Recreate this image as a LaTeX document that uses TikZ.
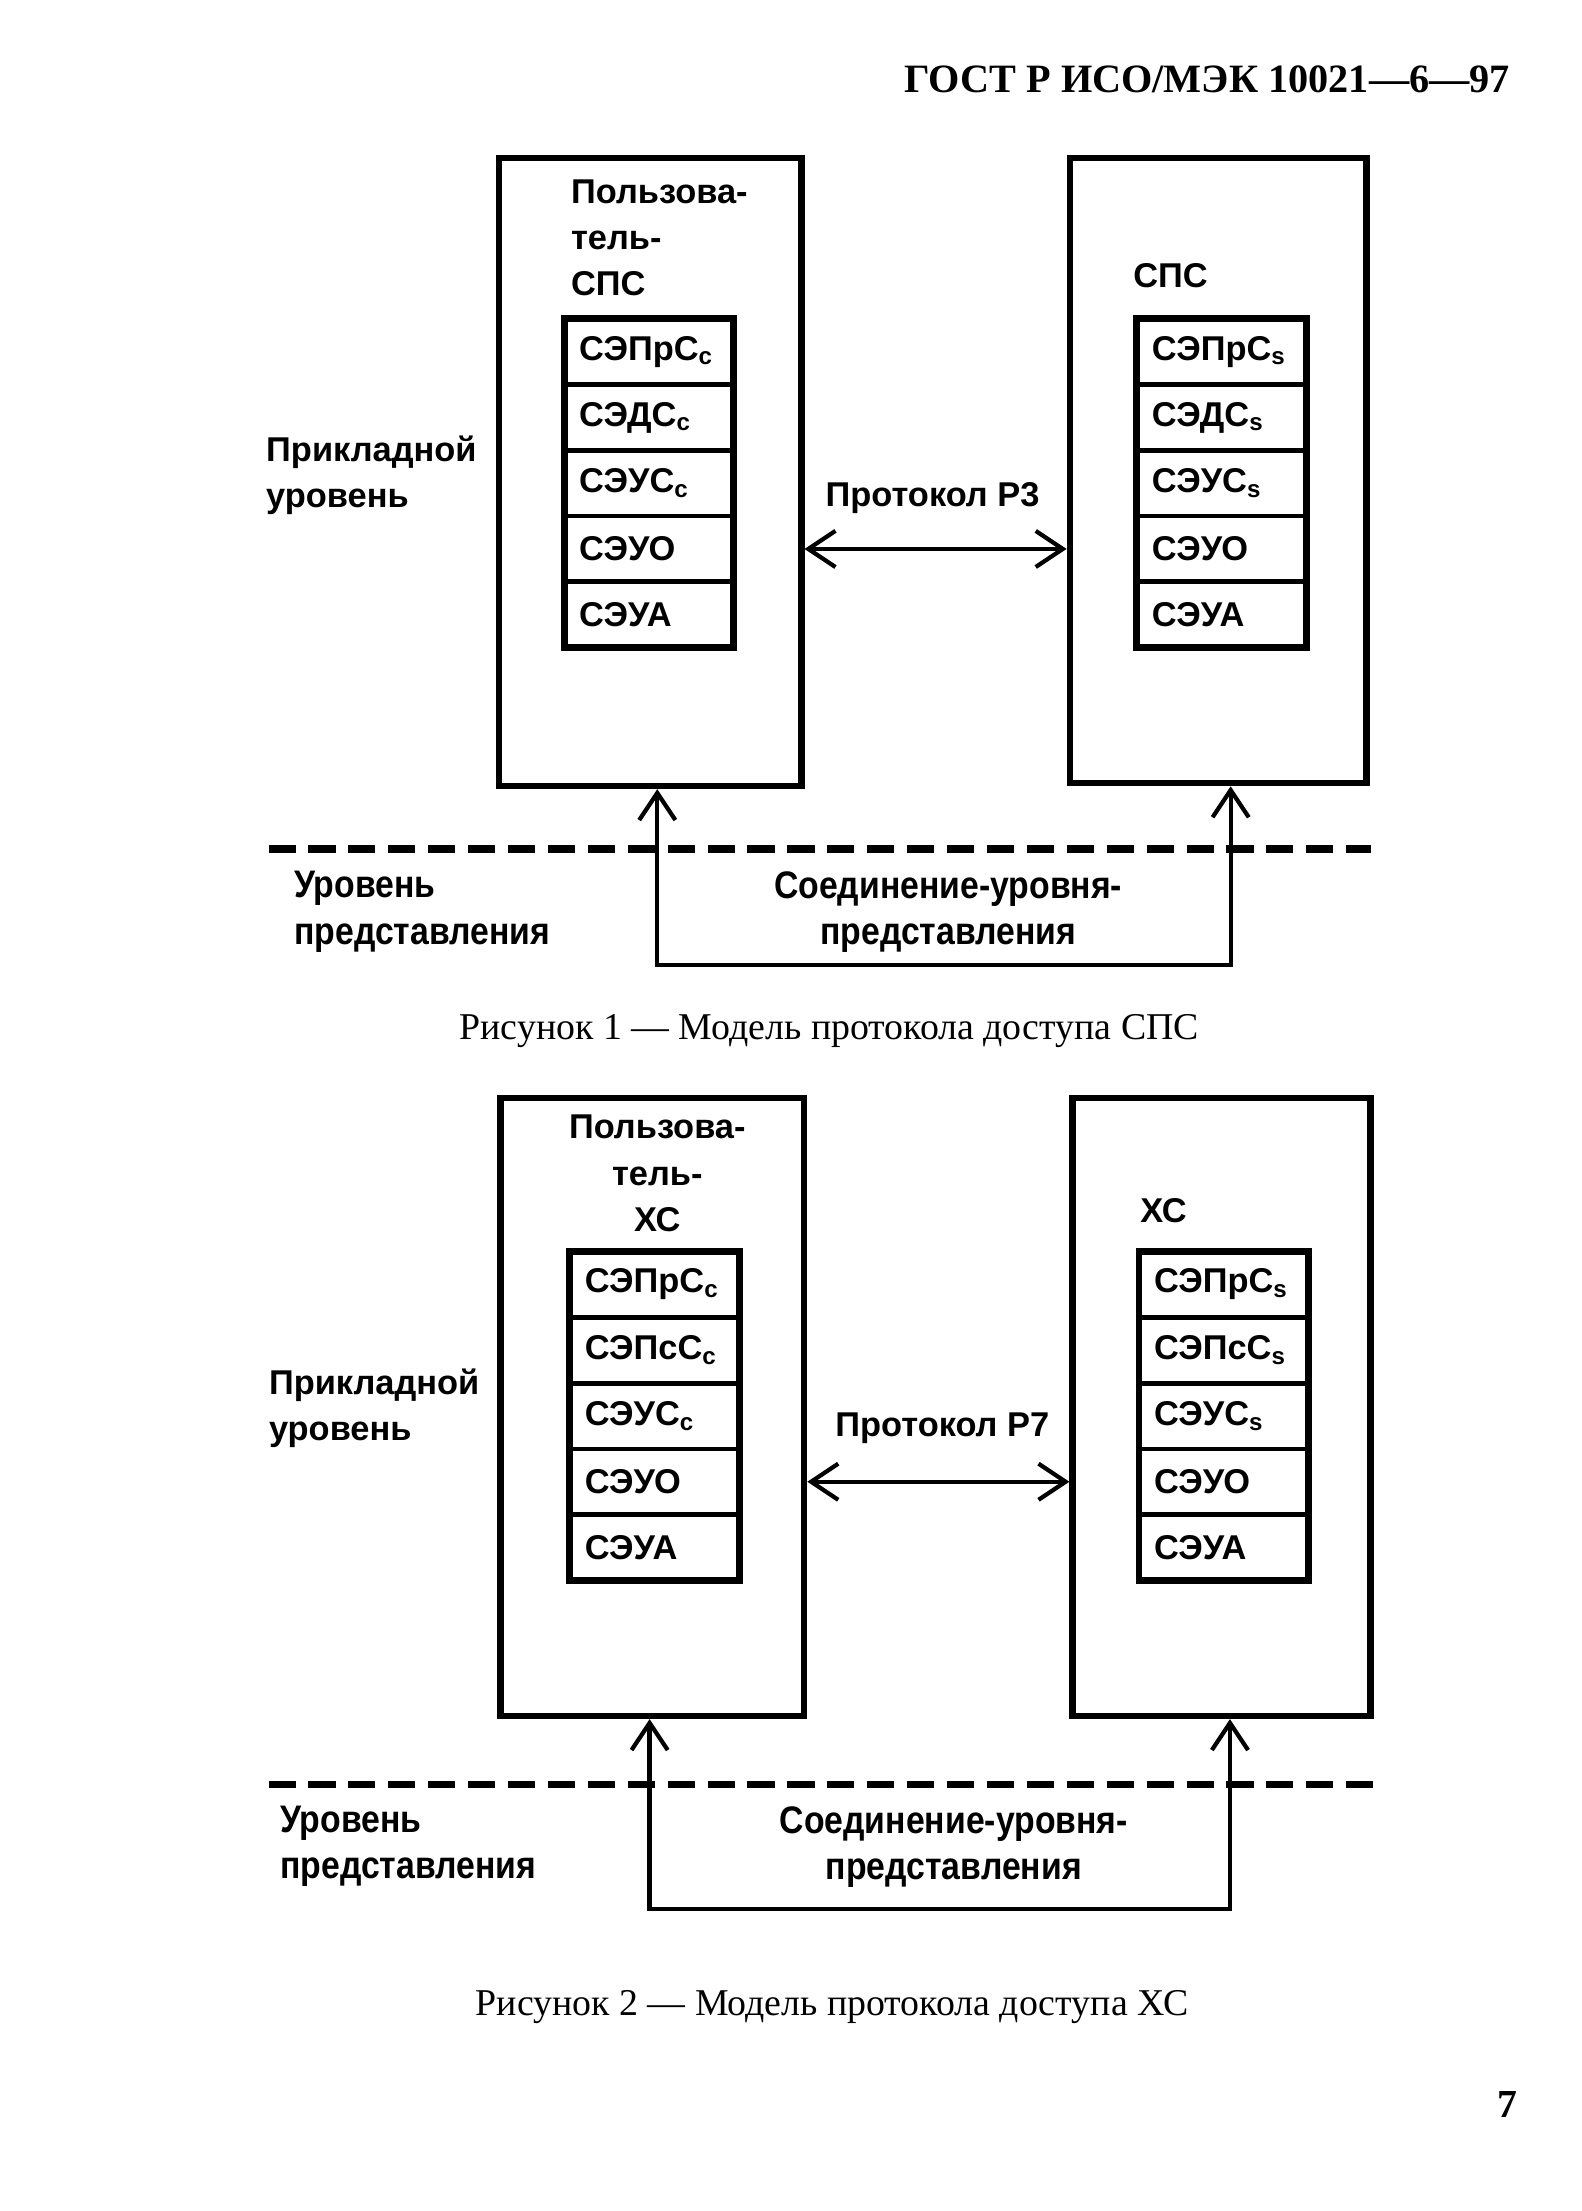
\documentclass[tikz,border=0pt]{standalone}
\usepackage{fontspec}
\setmainfont{Liberation Serif}
\newfontfamily\diafont{Liberation Sans}
\newfontfamily\narrowfont[FakeStretch=0.88]{Liberation Sans}
\usetikzlibrary{positioning,fit,arrows.meta,calc}

\begin{document}
\begin{tikzpicture}[x=0.018568cm,y=-0.018568cm,
    box/.style={draw, line width=2.4pt, inner sep=0pt},
    cell/.style={draw, line width=1.8pt, outer sep=0pt, minimum height=0.873cm,
      text width=1.85cm, inner xsep=0.2cm, align=left,
      font=\diafont\bfseries\fontsize{13}{15}\selectfont},
    stack/.style={draw, line width=2.6pt, inner sep=0pt},
    lbl/.style={inner sep=0pt, font=\diafont\bfseries\fontsize{13}{17.5}\selectfont},
    nlbl/.style={inner sep=0pt, font=\narrowfont\bfseries\fontsize{14.5}{17.5}\selectfont},
    link/.style={line width=1.6pt,
      {Straight Barb[length=3.6mm,width=4.8mm]}-{Straight Barb[length=3.6mm,width=4.8mm]}},
    level/.style={line width=2.8pt, dash pattern=on 0.36cm off 0.17cm},
    caption/.style={inner sep=0pt, font=\fontsize{14.3}{17}\selectfont}]
  \useasboundingbox (0,0) rectangle (1131,1581);

  \node[anchor=east, inner sep=0pt, font=\bfseries\fontsize{15.2}{18}\selectfont]
    (head) at (1080,57) {ГОСТ Р ИСО/МЭК 10021—6—97};

  % Рисунок 1
  \node[box, fit={(357,113) (573,562)}] (usr1) {};
  \node[box, fit={(765,113) (977,560)}] (srv1) {};
  \node[lbl, anchor=west, align=left] (usr1name) at (408,170) {Пользова-\\тель-\\СПС};
  \node[lbl, anchor=west] (srv1name) at (810,197) {СПС};

  \node[cell] (u1a) at (464,251.5) {СЭПрС\textsubscript{c}};
  \node[cell, below=0pt of u1a] (u1b) {СЭДС\textsubscript{c}};
  \node[cell, below=0pt of u1b] (u1c) {СЭУС\textsubscript{c}};
  \node[cell, below=0pt of u1c] (u1d) {СЭУО};
  \node[cell, below=0pt of u1d] (u1e) {СЭУА};
  \node[stack, fit=(u1a)(u1e)] (u1stack) {};

  \node[cell] (s1a) at (873.5,251.5) {СЭПрС\textsubscript{s}};
  \node[cell, below=0pt of s1a] (s1b) {СЭДС\textsubscript{s}};
  \node[cell, below=0pt of s1b] (s1c) {СЭУС\textsubscript{s}};
  \node[cell, below=0pt of s1c] (s1d) {СЭУО};
  \node[cell, below=0pt of s1d] (s1e) {СЭУА};
  \node[stack, fit=(s1a)(s1e)] (s1stack) {};

  \node[lbl, anchor=west, align=left] (app1) at (190,340) {Прикладной\\уровень};
  \node[lbl, anchor=west] (p3) at (590,356) {Протокол Р3};
  \draw[link] (usr1.east |- u1d) -- (srv1.west |- u1d);

  \draw[level] (192,607) -- (980,607);
  \node[nlbl, anchor=west, align=left] (pres1) at (210,652) {Уровень\\представления};
  \node[nlbl, align=center] (conn1) at (678,652) {Соединение-уровня-\\представления};
  \draw[link] ($(usr1.south)+(5,0)$) -- ++(0,126) -| ($(srv1.south)+(9,0)$);

  \node[caption] (cap1) at (593,737) {Рисунок 1 — Модель протокола доступа СПС};

  % Рисунок 2
  \node[box, fit={(358,785) (575,1227)}] (usr2) {};
  \node[box, fit={(767,785) (980,1227)}] (srv2) {};
  \node[lbl, align=center] (usr2name) at (470,839) {Пользова-\\тель-\\ХС};
  \node[lbl, anchor=west] (srv2name) at (815,866) {ХС};

  \node[cell] (u2a) at (468,918.5) {СЭПрС\textsubscript{c}};
  \node[cell, below=0pt of u2a] (u2b) {СЭПсС\textsubscript{c}};
  \node[cell, below=0pt of u2b] (u2c) {СЭУС\textsubscript{c}};
  \node[cell, below=0pt of u2c] (u2d) {СЭУО};
  \node[cell, below=0pt of u2d] (u2e) {СЭУА};
  \node[stack, fit=(u2a)(u2e)] (u2stack) {};

  \node[cell] (s2a) at (875,918.5) {СЭПрС\textsubscript{s}};
  \node[cell, below=0pt of s2a] (s2b) {СЭПсС\textsubscript{s}};
  \node[cell, below=0pt of s2b] (s2c) {СЭУС\textsubscript{s}};
  \node[cell, below=0pt of s2c] (s2d) {СЭУО};
  \node[cell, below=0pt of s2d] (s2e) {СЭУА};
  \node[stack, fit=(s2a)(s2e)] (s2stack) {};

  \node[lbl, anchor=west, align=left] (app2) at (192,1007) {Прикладной\\уровень};
  \node[lbl, anchor=west] (p7) at (597,1021) {Протокол Р7};
  \draw[link] (usr2.east |- u2d) -- (srv2.west |- u2d);

  \draw[level] (192,1276) -- (987,1276);
  \node[nlbl, anchor=west, align=left] (pres2) at (200,1320) {Уровень\\представления};
  \node[nlbl, align=center] (conn2) at (682,1321) {Соединение-уровня-\\представления};
  \draw[link] ($(usr2.south)+(-2,0)$) -- ++(0,136) -| ($(srv2.south)+(6,0)$);

  \node[caption] (cap2) at (595,1435) {Рисунок 2 — Модель протокола доступа ХС};

  \node[caption, font=\bfseries\fontsize{15}{17}\selectfont] (page) at (1078,1505) {7};
\end{tikzpicture}
\end{document}
